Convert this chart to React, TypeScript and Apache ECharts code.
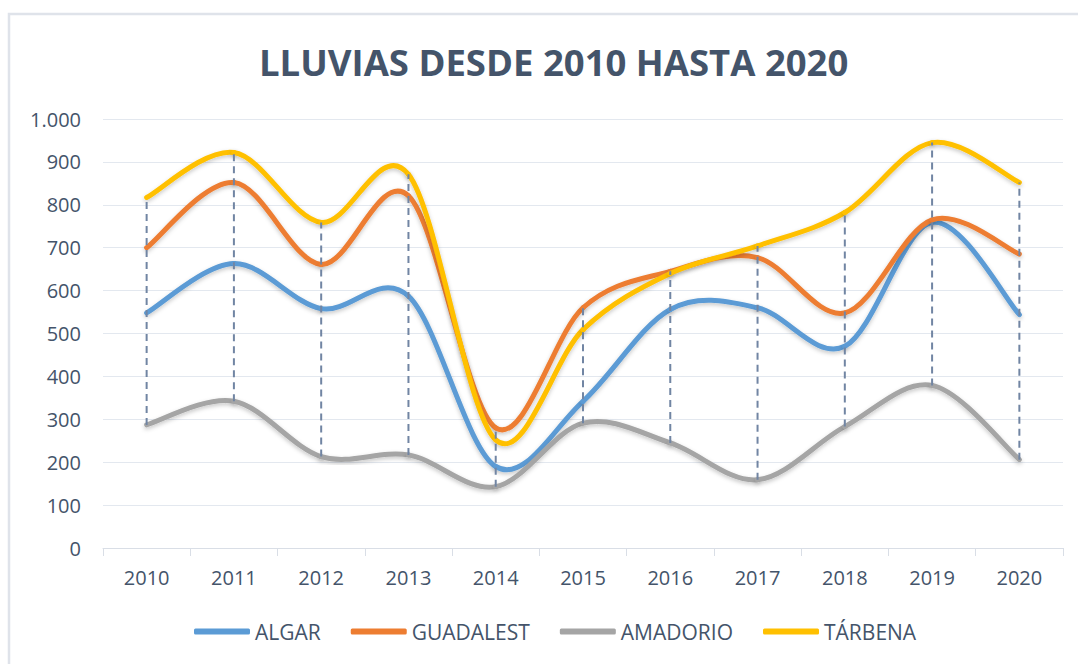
import React, { useEffect, useRef } from "react";
import * as echarts from "echarts";

const years = ["2010", "2011", "2012", "2013", "2014", "2015", "2016", "2017", "2018", "2019", "2020"];
const algar = [548, 663, 558, 587, 190, 342, 556, 560, 470, 759, 544];
const guadalest = [700, 852, 661, 821, 280, 560, 645, 677, 548, 765, 685];
const amadorio = [287, 342, 213, 217, 143, 291, 245, 159, 283, 379, 206];
const tarbena = [817, 922, 759, 871, 252, 509, 640, 704, 782, 945, 852];

const seriesNames = ["ALGAR", "GUADALEST", "AMADORIO", "TÁRBENA"];
const seriesValues = [algar, guadalest, amadorio, tarbena];
const colors = ["#5B9BD5", "#ED7D31", "#A5A5A5", "#FFC000"];

const FONT = "'Open Sans', sans-serif";
const TEXT = "#44546A";

export default function App() {
  const ref = useRef<HTMLDivElement>(null);
  useEffect(() => {
    document.body.style.margin = "0";
    const chart = echarts.init(ref.current!, null, { renderer: "svg" });
    const n = years.length;
    const hiLo = years.map((_, i) => {
      const vals = seriesValues.map((s) => s[i]);
      return [i, Math.min(...vals), Math.max(...vals)];
    });
    const splineData = (vals: number[]) =>
      vals.map((v, i) => [
        i,
        vals[Math.max(i - 1, 0)],
        v,
        vals[Math.min(i + 1, n - 1)],
        vals[Math.min(i + 2, n - 1)],
      ]);
    const makeRender = (color: string) => (params: any, api: any) => {
      const i = api.value(0);
      if (i >= n - 1) return null;
      const p0 = api.coord([Math.max(i - 1, 0), api.value(1)]);
      const p1 = api.coord([i, api.value(2)]);
      const p2 = api.coord([i + 1, api.value(3)]);
      const p3 = api.coord([Math.min(i + 2, n - 1), api.value(4)]);
      const t = 1 / 6;
      return {
        type: "bezierCurve",
        shape: {
          x1: p1[0],
          y1: p1[1],
          x2: p2[0],
          y2: p2[1],
          cpx1: p1[0] + (p2[0] - p0[0]) * t,
          cpy1: p1[1] + (p2[1] - p0[1]) * t,
          cpx2: p2[0] - (p3[0] - p1[0]) * t,
          cpy2: p2[1] - (p3[1] - p1[1]) * t,
        },
        style: {
          stroke: color,
          fill: null,
          lineWidth: 5,
          lineCap: "round",
          shadowColor: "rgba(0,0,0,0.22)",
          shadowBlur: 4,
          shadowOffsetY: 2,
        },
      };
    };
    chart.setOption({
      animation: false,
      backgroundColor: "#ffffff",
      textStyle: { fontFamily: FONT },
      title: {
        text: "LLUVIAS DESDE 2010 HASTA 2020",
        left: 254,
        top: 38,
        textStyle: { fontFamily: FONT, fontSize: 36.5, fontWeight: "bold", color: TEXT },
      },
      graphic: [
        {
          type: "rect",
          shape: { x: 9, y: 14, width: 2000, height: 2000 },
          style: { fill: "none", stroke: "#dfe3ea", lineWidth: 2.5 },
          silent: true,
          z: -10,
        },
      ],
      legend: {
        data: seriesNames,
        bottom: 17,
        left: 189,
        itemWidth: 56,
        itemHeight: 6,
        itemGap: 30,
        icon: "roundRect",
        textStyle: { fontFamily: FONT, fontSize: 21, color: TEXT },
      },
      grid: { left: 103, right: 15, top: 119, bottom: 116 },
      xAxis: {
        type: "category",
        data: years,
        axisLine: { lineStyle: { color: "#d9dee6", width: 1 } },
        axisTick: { show: true, length: 8, lineStyle: { color: "#d9dee6" } },
        axisLabel: { fontFamily: FONT, fontSize: 20, color: TEXT, margin: 19 },
      },
      yAxis: {
        type: "value",
        min: 0,
        max: 1000,
        interval: 100,
        axisLine: { show: false },
        axisTick: { show: false },
        splitLine: { lineStyle: { color: "#e3e8ef", width: 1 } },
        axisLabel: {
          fontFamily: FONT,
          fontSize: 20,
          color: TEXT,
          margin: 22,
          formatter: (v: number) =>
            v >= 1000 ? Math.floor(v / 1000) + "." + String(v % 1000).padStart(3, "0") : String(v),
        },
      },
      series: [
        ...seriesNames.map((name, k) => ({
          name,
          type: "custom",
          data: splineData(seriesValues[k]),
          encode: { x: 0, y: 2 },
          color: colors[k],
          itemStyle: { color: colors[k] },
          renderItem: makeRender(colors[k]),
          silent: true,
          z: 2 + k,
        })),
        {
          name: "hilo",
          type: "custom",
          data: hiLo,
          encode: { x: 0, y: [1, 2] },
          z: 10,
          silent: true,
          renderItem: (params: any, api: any) => {
            const p1 = api.coord([api.value(0), api.value(1)]);
            const p2 = api.coord([api.value(0), api.value(2)]);
            return {
              type: "line",
              shape: { x1: p1[0], y1: p1[1], x2: p2[0], y2: p2[1] },
              style: { stroke: "#7185a3", lineWidth: 2, lineDash: [7, 5] },
            };
          },
        },
      ],
    });
    return () => chart.dispose();
  }, []);
  return <div ref={ref} style={{ width: 1078, height: 664 }} />;
}
